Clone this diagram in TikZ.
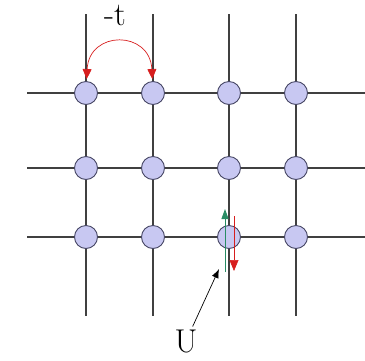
\documentclass[tikz,border=0pt]{standalone}
\usepackage{tikz}
\usetikzlibrary{arrows.meta,positioning,calc}

\definecolor{sitefill}{RGB}{200,200,242}
\definecolor{siteedge}{RGB}{70,70,100}
\definecolor{hopred}{RGB}{215,30,30}
\definecolor{spingreen}{RGB}{40,140,100}

\begin{document}
\begin{tikzpicture}[
  x=1pt, y=-1pt,
  site/.style={circle, draw=siteedge, line width=0.9pt, fill=sitefill, minimum size=23pt, inner sep=0pt},
  bond/.style={draw=black!75, line width=1.4pt},
  hop/.style={{Triangle[length=10pt,width=9pt]}-{Triangle[length=10pt,width=9pt]}, hopred, line width=0.7pt, shorten <=2pt, shorten >=2pt},
  spinup/.style={-{Triangle[length=10pt,width=7pt]}, spingreen, line width=1pt},
  spindown/.style={-{Triangle[length=11pt,width=9pt]}, hopred, line width=0.6pt},
  pointer/.style={-{Latex[length=9pt,width=7pt]}, black, line width=0.7pt},
  lbl/.style={font=\fontsize{33}{38}\selectfont, inner sep=0pt}
]
\useasboundingbox (0,0) rectangle (365,360);

% bond ends
\coordinate (h1l) at (27,93);   \coordinate (h1r) at (365,93);
\coordinate (h2l) at (27,168);  \coordinate (h2r) at (365,168);
\coordinate (h3l) at (27,237);  \coordinate (h3r) at (365,237);
\coordinate (v1t) at (86,14);   \coordinate (v1b) at (86,316);
\coordinate (v2t) at (153,14);  \coordinate (v2b) at (153,316);
\coordinate (v3t) at (229,14);  \coordinate (v3b) at (229,316);
\coordinate (v4t) at (296,14);  \coordinate (v4b) at (296,316);

\draw[bond] (h1l) -- (h1r);
\draw[bond] (h2l) -- (h2r);
\draw[bond] (h3l) -- (h3r);
\draw[bond] (v1t) -- (v1b);
\draw[bond] (v2t) -- (v2b);
\draw[bond] (v3t) -- (v3b);
\draw[bond] (v4t) -- (v4b);

% lattice sites
\node[site] (s11) at (86,93) {};
\node[site] (s12) at (153,93) {};
\node[site] (s13) at (229,93) {};
\node[site] (s14) at (296,93) {};
\node[site] (s21) at (86,168) {};
\node[site] (s22) at (153,168) {};
\node[site] (s23) at (229,168) {};
\node[site] (s24) at (296,168) {};
\node[site] (s31) at (86,237) {};
\node[site] (s32) at (153,237) {};
\node[site] (s33) at (229,237) {};
\node[site] (s34) at (296,237) {};

% hopping
\draw[hop] (s11) .. controls (89,30) and (150,30) .. (s12);
\node[lbl] (hoplbl) at (115,15) {-t};

% on-site interaction
\coordinate (upfrom) at (225,272);
\coordinate (upto) at (225,209);
\coordinate (downfrom) at (234,216);
\coordinate (downto) at (234,271);
\draw[spinup] (upfrom) -- (upto);
\draw[spindown] (downfrom) -- (downto);

\node[lbl] (ulbl) at (186,341) {U};
\coordinate (utip) at (219,269);
\draw[pointer, shorten <=3pt] (ulbl) -- (utip);

\end{tikzpicture}
\end{document}
